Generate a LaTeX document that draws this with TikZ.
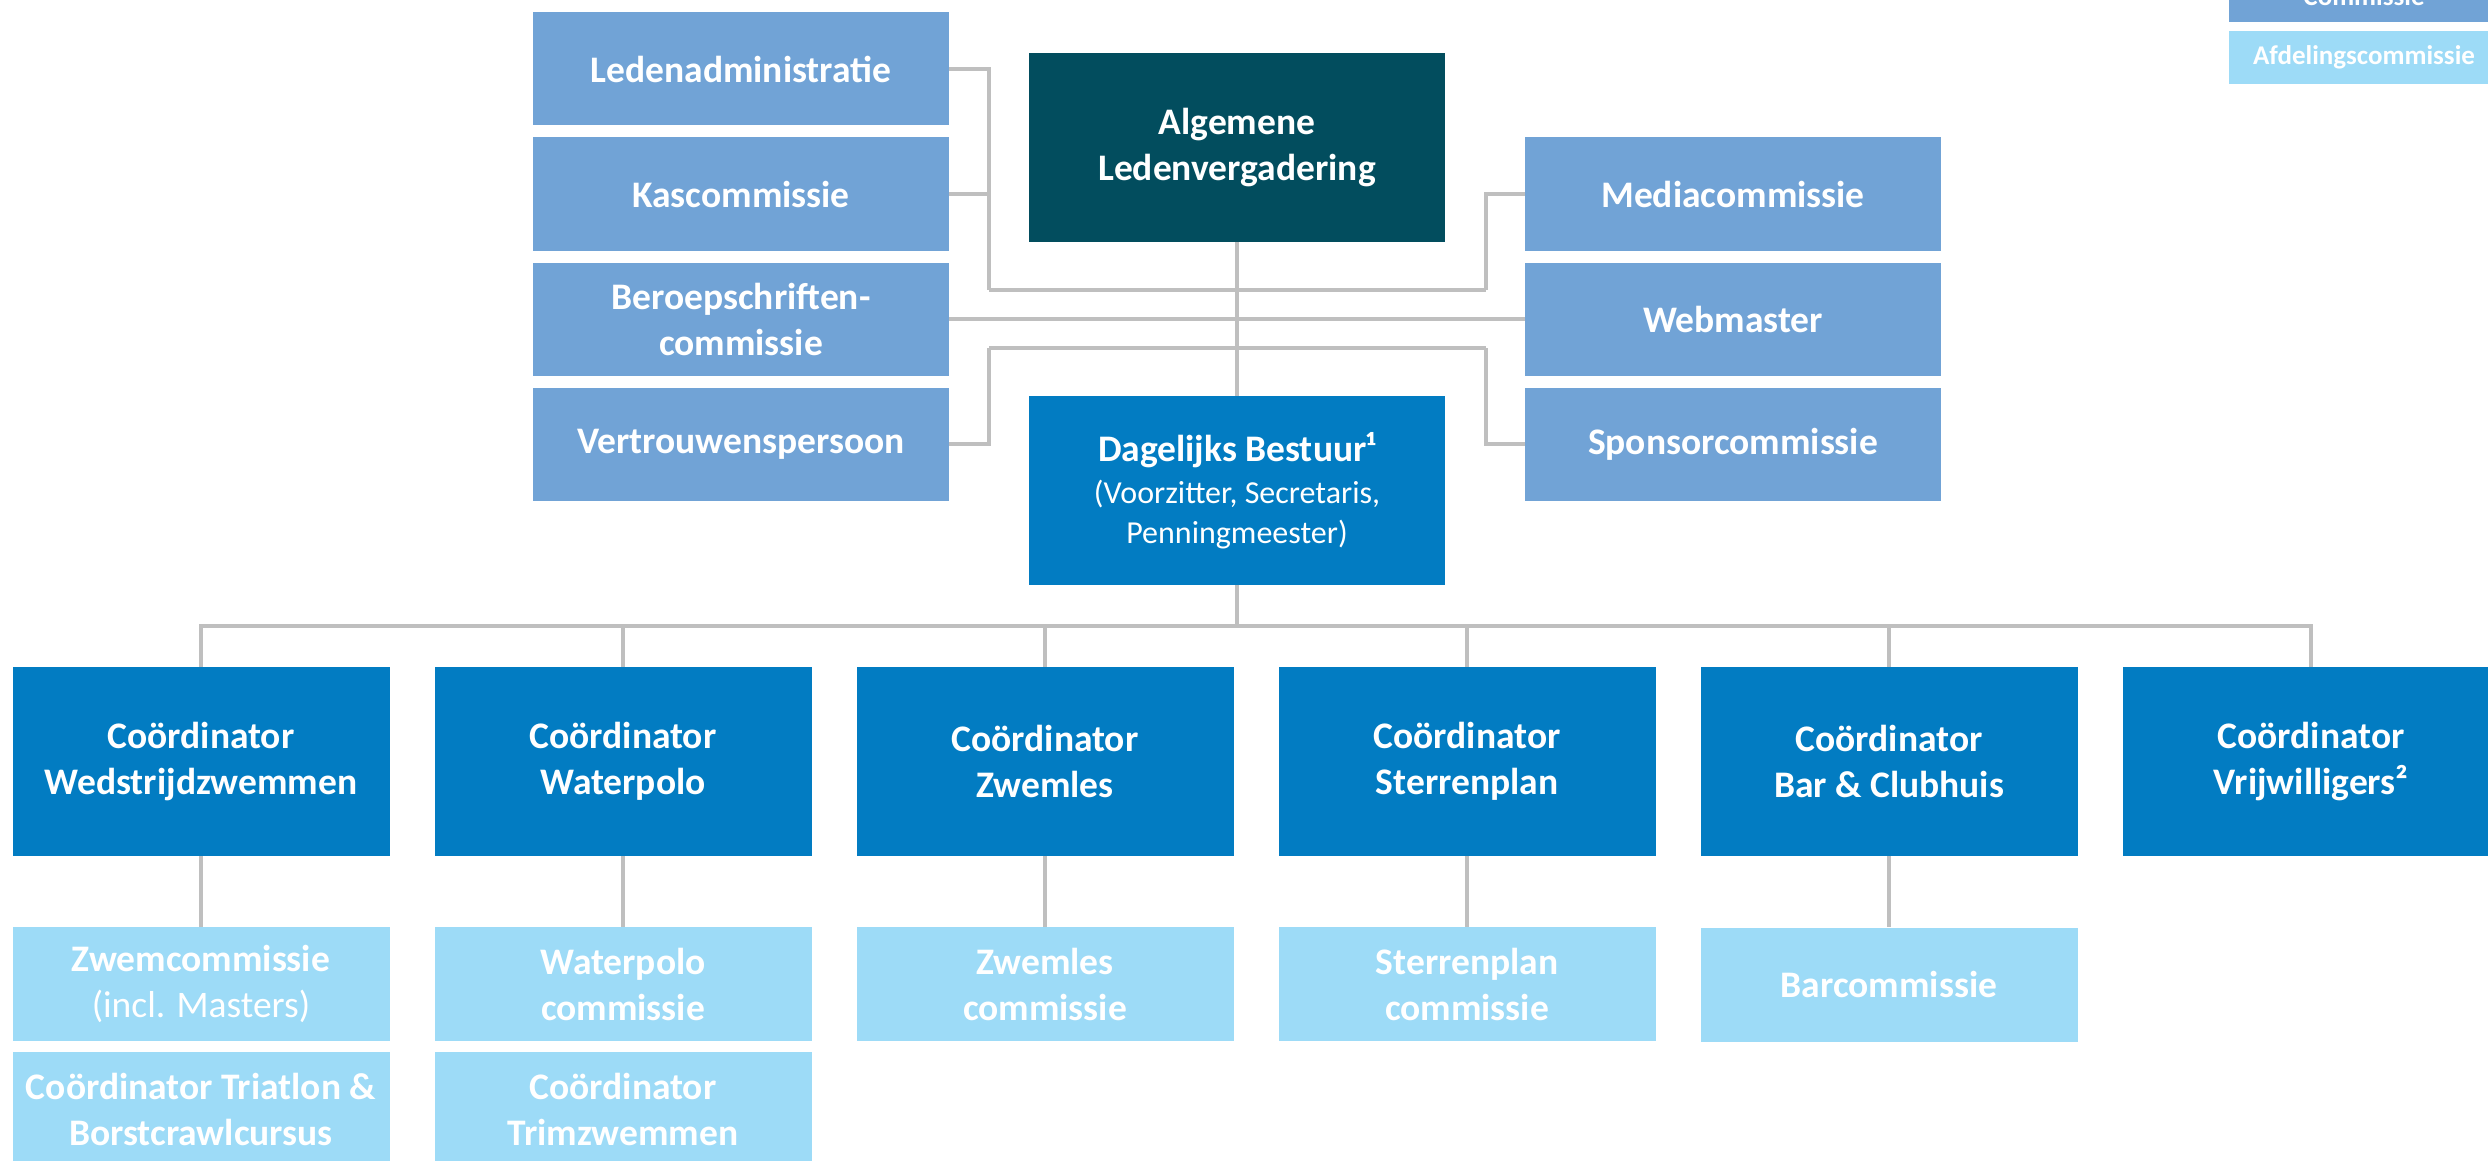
\documentclass[tikz,border=0pt]{standalone}
\usepackage{fontspec}
\setmainfont{Carlito}
\definecolor{alvcol}{HTML}{024D5E}
\definecolor{dbcol}{HTML}{027CC2}
\definecolor{comcol}{HTML}{71A3D6}
\definecolor{afdcol}{HTML}{9DDBF7}
\definecolor{linecol}{HTML}{BFBFBF}
\newcommand{\dbsub}{\mdseries\fontsize{32}{38}\selectfont}
\begin{document}
\begin{tikzpicture}[x=1pt,y=-1pt,
  box/.style={draw=none, inner sep=0pt, align=center, text=white,
    font=\bfseries\fontsize{37.5}{46}\selectfont},
  com/.style={box, fill=comcol, minimum width=416pt, minimum height=113pt},
  topbox/.style={box, minimum width=416pt, minimum height=189pt},
  coord/.style={box, fill=dbcol, minimum width=377pt, minimum height=189pt},
  afd/.style={box, fill=afdcol, minimum width=377pt, minimum height=114pt},
  legend/.style={box, minimum width=270pt, minimum height=53pt,
    font=\bfseries\fontsize{27}{32}\selectfont},
  conn/.style={draw=linecol, line width=3.2pt}]
\useasboundingbox (0,0) rectangle (2488,1161);
\clip (0,0) rectangle (2488,1161);

% top left commissions
\node[com] (led) at (741,69) {Ledenadministratie};
\node[com] (kas) at (741,194) {Kascommissie};
\node[com] (ber) at (741,319) {Beroepschriften-\\commissie};
\node[com] (ver) at (741,444) {Vertrouwenspersoon};
% top right commissions
\node[com] (med) at (1733,194) {Mediacommissie};
\node[com] (web) at (1733,319) {Webmaster};
\node[com] (spo) at (1733,444) {Sponsorcommissie};
% centre
\node[topbox, fill=alvcol] (alv) at (1237,147.5) {Algemene\\Ledenvergadering};
\node[topbox, fill=dbcol] (db) at (1237,490.5) {Dagelijks Bestuur¹\\[-4pt]{\dbsub (Voorzitter, Secretaris,}\\[-6pt]{\dbsub Penningmeester)}};

% coordinators
\node[coord] (c1) at (201,761.5) {Coördinator\\Wedstrijdzwemmen};
\node[coord] (c2) at (623,761.5) {Coördinator\\Waterpolo};
\node[coord] (c3) at (1045,761.5) {Coördinator\\Zwemles};
\node[coord] (c4) at (1467,761.5) {Coördinator\\Sterrenplan};
\node[coord] (c5) at (1889,761.5) {Coördinator\\Bar \& Clubhuis};
\node[coord] (c6) at (2311,761.5) {Coördinator\\Vrijwilligers²};

% department commissions
\node[afd] (a1) at (201,984) {Zwemcommissie\\{\mdseries (incl. Masters)}};
\node[afd] (b1) at (201,1109) {Coördinator Triatlon \&\\Borstcrawlcursus};
\node[afd] (a2) at (623,984) {Waterpolo\\commissie};
\node[afd] (b2) at (623,1109) {Coördinator\\Trimzwemmen};
\node[afd] (a3) at (1045,984) {Zwemles\\commissie};
\node[afd] (a4) at (1467,984) {Sterrenplan\\commissie};
\node[afd] (a5) at (1889,984.5) {Barcommissie};

% legend
\node[legend, fill=comcol] (lg1) at (2364,-4) {Commissie};
\node[legend, fill=afdcol] (lg2) at (2364,57.5) {Afdelingscommissie};

% connectors
\coordinate (lu) at (989,290);
\coordinate (ru) at (1486,290);
\coordinate (ll) at (989,348);
\coordinate (rl) at (1486,348);
\coordinate (bus) at (1237,626);

\draw[conn] (alv.south) -- (db.north);
\draw[conn] (led.east) -| (lu);
\draw[conn] (kas.east) -| (lu);
\draw[conn] (lu) -- (ru);
\draw[conn] (med.west) -| (ru);
\draw[conn] (ber.east) -- (web.west);
\draw[conn] (ver.east) -| (ll);
\draw[conn] (ll) -- (rl);
\draw[conn] (spo.west) -| (rl);

\draw[conn] (db.south) -- (bus);
\foreach \c in {c1,c2,c3,c4,c5,c6} \draw[conn] (\c.north) |- (bus);
\draw[conn] (c1.south) -- (a1.north);
\draw[conn] (c2.south) -- (a2.north);
\draw[conn] (c3.south) -- (a3.north);
\draw[conn] (c4.south) -- (a4.north);
\draw[conn] (c5.south) -- (a5.north);
\end{tikzpicture}
\end{document}
